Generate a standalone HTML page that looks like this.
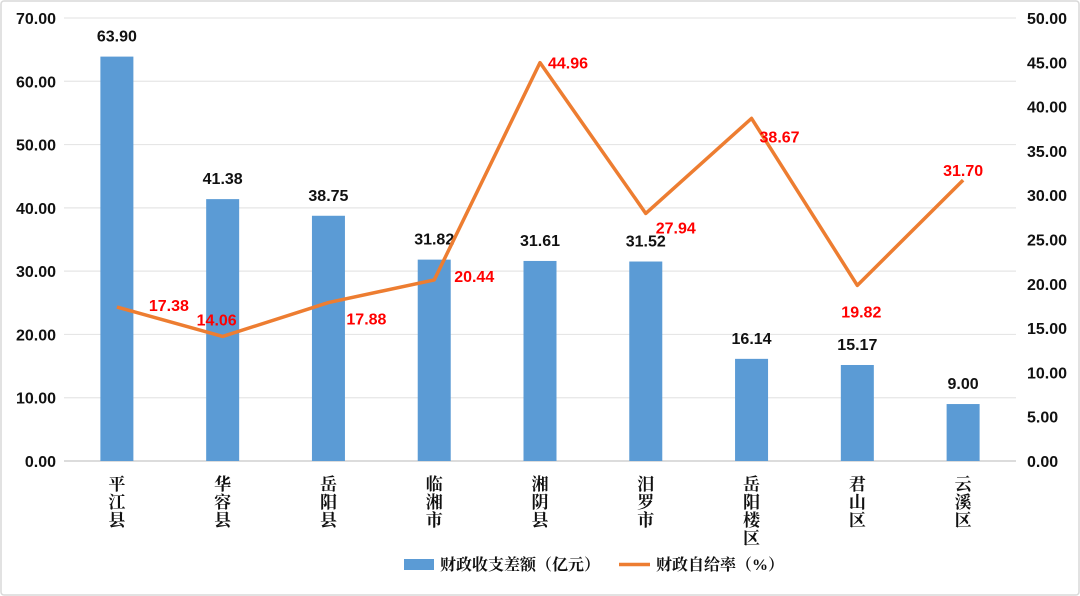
<!DOCTYPE html>
<html><head><meta charset="utf-8"><style>
body{margin:0;background:#fff;}
#wrap{position:relative;width:1080px;height:596px;overflow:hidden;}
svg text{font-family:"Liberation Sans","Noto Sans CJK SC",sans-serif;}
</style></head><body>
<div id="wrap">
<svg id="c" width="1080" height="596"></svg>
</div>
<script>
const categories=["平江县","华容县","岳阳县","临湘市","湘阴县","汨罗市","岳阳楼区","君山区","云溪区"];
const gapValues=[63.90,41.38,38.75,31.82,31.61,31.52,16.14,15.17,9.00];
const rateValues=[17.38,14.06,17.88,20.44,44.96,27.94,38.67,19.82,31.70];
const leftTicks=[0,10,20,30,40,50,60,70];
const rightTicks=[0,5,10,15,20,25,30,35,40,45,50];
// label offsets (dx,dy) relative to point, for readability
const rateLabelOffsets=[[52,-2],[-6,-17],[38,16],[40,-4],[28,0],[30,14],[28,18],[4,26],[0,-10]];

const NS="http://www.w3.org/2000/svg";
const svg=document.getElementById('c');
const X0=64,X1=1016,Y0=461,Y1=18;
const step=(X1-X0)/categories.length;
const xc=i=>X0+step*(i+0.5);
const yL=v=>Y0-(v/70)*(Y0-Y1);
const yR=v=>Y0-(v/50)*(Y0-Y1);
function el(tag,attrs,parent){const e=document.createElementNS(NS,tag);for(const k in attrs)e.setAttribute(k,attrs[k]);(parent||svg).appendChild(e);return e;}

const border=el('rect',{x:1,y:1,width:1078,height:594,fill:'none',stroke:'#d9d9d9','stroke-width':1.5,rx:3});



leftTicks.forEach(t=>{
  if(t>0){const g=el('line',{x1:X0,x2:X1,y1:yL(t),y2:yL(t),stroke:'#e6e6e6','stroke-width':1.2});
  
  }
  const tx=el('text',{x:56,y:yL(t)+6,'text-anchor':'end','font-size':16,'font-weight':'bold',fill:'#111'});
  tx.textContent=t.toFixed(2);
  
  
});
rightTicks.forEach(t=>{
  const tx=el('text',{x:1027,y:yR(t)+6,'font-size':16,'font-weight':'bold',fill:'#111'});
  tx.textContent=t.toFixed(2);
  
  
});
const ax=el('line',{x1:X0,x2:X1,y1:Y0,y2:Y0,stroke:'#d0d0d0','stroke-width':1.5});



categories.forEach((c,i)=>{
  const b=el('rect',{x:xc(i)-16.5,y:yL(gapValues[i]),width:33,height:Y0-yL(gapValues[i]),fill:'#5b9bd5'});
  
  
  const v=el('text',{x:xc(i),y:yL(gapValues[i])-15,'text-anchor':'middle','font-size':16,'font-weight':'bold',fill:'#111'});
  v.textContent=gapValues[i].toFixed(2);
  
  
  const lab=el('text',{x:xc(i),y:490,'text-anchor':'middle','font-size':17,'font-weight':'bold',fill:'#111'});
  
  
  lab.style.fontFamily='"Liberation Serif","Noto Serif CJK SC",serif';
  [...c].forEach((ch,k)=>{const ts=el('tspan',{x:xc(i),dy:k?18:0},lab);ts.textContent=ch;});
});

const pts=rateValues.map((v,i)=>xc(i)+','+yR(v)).join(' ');
const line=el('polyline',{points:pts,fill:'none',stroke:'#ed7d31','stroke-width':3.5,'stroke-linejoin':'round'});


rateValues.forEach((v,i)=>{
  const [dx,dy]=rateLabelOffsets[i];
  const lx=xc(i)+dx,ly=yR(v)+dy;
  const t=el('text',{x:lx,y:ly+6,'text-anchor':'middle','font-size':16,'font-weight':'bold',fill:'#ff0000'});
  t.textContent=v.toFixed(2);
  
  
});

const lg=el('g',{});


const r=el('rect',{x:404,y:559,width:30,height:11,fill:'#5b9bd5'},lg);


const t1=el('text',{x:440,y:570,'font-size':16,fill:'#111','font-weight':'bold'},lg);
t1.textContent='财政收支差额（亿元）';
t1.style.fontFamily='"Liberation Serif","Noto Serif CJK SC",serif';


const l2=el('line',{x1:619,x2:650,y1:564.5,y2:564.5,stroke:'#ed7d31','stroke-width':3.5},lg);


const t2=el('text',{x:656,y:570,'font-size':16,fill:'#111','font-weight':'bold'},lg);
t2.textContent='财政自给率（%）';
t2.style.fontFamily='"Liberation Serif","Noto Serif CJK SC",serif';


</script>
</body></html>
